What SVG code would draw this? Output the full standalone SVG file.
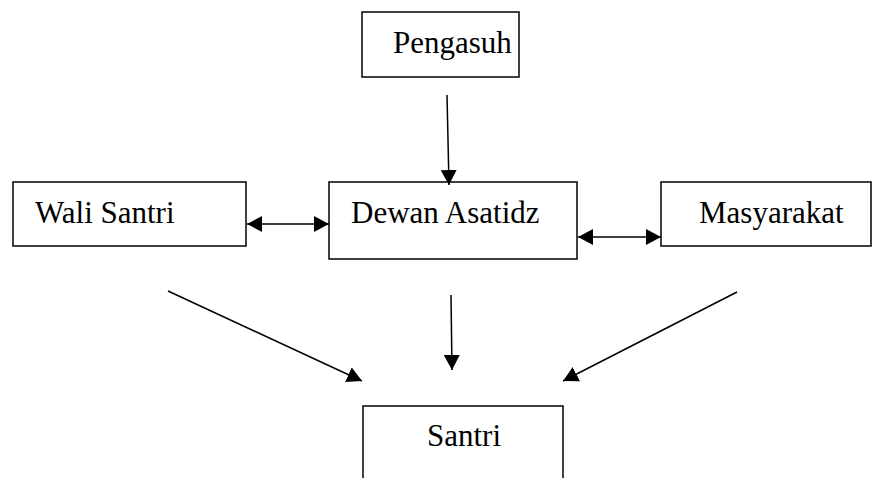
<svg xmlns="http://www.w3.org/2000/svg" width="873" height="478" viewBox="0 0 873 478">
<style>
.box{fill:#fff;stroke:#000;stroke-width:1.5}
.lbl{font-family:"Liberation Serif","Times New Roman",serif;font-size:31px;fill:#000}
.con{stroke:#000;stroke-width:1.5;fill:none}
</style>
<defs>
<marker id="ah" markerUnits="userSpaceOnUse" markerWidth="15" markerHeight="16" refX="15" refY="8" orient="auto-start-reverse" viewBox="0 0 15 16">
<path d="M0,0 L15,8 L0,16 z" fill="#000"/>
</marker>
</defs>
<g id="pengasuh"><rect class="box" x="362" y="12" width="157" height="65"/><text class="lbl" x="393" y="53">Pengasuh</text></g>
<g id="wali-santri"><rect class="box" x="13" y="182" width="233" height="64"/><text class="lbl" x="35" y="223">Wali Santri</text></g>
<g id="dewan-asatidz"><rect class="box" x="329" y="182" width="248" height="77"/><text class="lbl" x="351" y="223">Dewan Asatidz</text></g>
<g id="masyarakat"><rect class="box" x="661" y="182" width="210" height="64"/><text class="lbl" x="699" y="223">Masyarakat</text></g>
<g id="santri"><rect class="box" x="363" y="406" width="200" height="80"/><text class="lbl" x="427" y="446">Santri</text></g>
<g id="connectors">
<line class="con" x1="447" y1="95" x2="449" y2="185" marker-end="url(#ah)"/>
<line class="con" x1="247" y1="224" x2="329" y2="224" marker-start="url(#ah)" marker-end="url(#ah)"/>
<line class="con" x1="578" y1="237" x2="661" y2="237" marker-start="url(#ah)" marker-end="url(#ah)"/>
<line class="con" x1="168" y1="291" x2="362" y2="381" marker-end="url(#ah)"/>
<line class="con" x1="451" y1="295" x2="452" y2="370" marker-end="url(#ah)"/>
<line class="con" x1="737" y1="292" x2="563" y2="381" marker-end="url(#ah)"/>
</g>
</svg>
